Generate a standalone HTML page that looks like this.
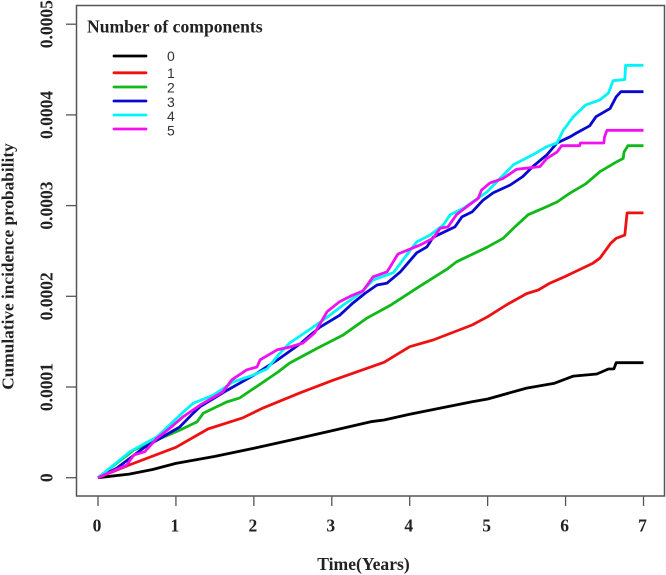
<!DOCTYPE html>
<html lang="en">
<head>
<meta charset="utf-8">
<title>Cumulative incidence probability by number of components</title>
<style>
html,body{margin:0;padding:0;background:#fff;width:666px;height:575px;overflow:hidden}
svg{display:block;filter:blur(0.35px)}
text{font-family:"Liberation Serif",serif;font-weight:bold;fill:#222}
</style>
</head>
<body>
<svg id="chart" xmlns="http://www.w3.org/2000/svg" width="666" height="575" viewBox="0 0 666 575">
  <rect x="76.5" y="5.5" width="588" height="490.5" fill="#fff" stroke="#555" stroke-width="1.5"/>
  <g id="ticks"></g>
  <g id="series"></g>
  <g id="legend">
    <text x="87" y="32.5" font-size="17.6">Number of components</text>
  </g>
  <text x="363.5" y="570" font-size="17.6" text-anchor="middle">Time(Years)</text>
  <text transform="translate(13.5,266.5) rotate(-90)" font-size="17.3" text-anchor="middle">Cumulative incidence probability</text>
</svg>
<script>
var xTicks = [0, 1, 2, 3, 4, 5, 6, 7];
var yTicks = [0, 0.0001, 0.0002, 0.0003, 0.0004, 0.0005];
var yTickLabels = ["0", "0.0001", "0.0002", "0.0003", "0.0004", "0.0005"];
var categories = ["0", "1", "2", "3", "4", "5"];
var colors = ["#000000", "#ee1111", "#10b818", "#0808d0", "#00f4f8", "#f010f0"];

var times0 = [0, 0.4, 0.7, 1, 1.5, 2, 2.5, 3, 3.5, 3.67, 4, 4.4, 4.8, 5, 5.5, 5.85, 6.1, 6.4, 6.55, 6.62, 6.65, 7];
var values0 = [0, 0.04, 0.09, 0.158, 0.235, 0.324, 0.42, 0.518, 0.617, 0.636, 0.70, 0.768, 0.838, 0.868, 0.988, 1.04, 1.12, 1.143, 1.198, 1.2, 1.268, 1.268];

var times1 = [0, 0.4, 1, 1.41, 1.86, 2.12, 2.59, 3, 3.67, 4, 4.3, 4.8, 5, 5.25, 5.5, 5.65, 5.8, 6, 6.35, 6.44, 6.58, 6.65, 6.76, 6.79, 7];
var values1 = [0, 0.14, 0.335, 0.537, 0.66, 0.77, 0.935, 1.07, 1.272, 1.444, 1.518, 1.684, 1.775, 1.91, 2.03, 2.07, 2.145, 2.22, 2.365, 2.42, 2.585, 2.64, 2.675, 2.92, 2.92];

var times2 = [0, 0.46, 1.05, 1.27, 1.35, 1.65, 1.82, 2.2, 2.31, 2.46, 2.82, 3.14, 3.45, 3.75, 4.11, 4.48, 4.6, 4.99, 5.2, 5.35, 5.52, 5.71, 5.89, 6.06, 6.26, 6.44, 6.65, 6.74, 6.75, 6.8, 7];
var values2 = [0, 0.305, 0.525, 0.615, 0.71, 0.835, 0.88, 1.1, 1.165, 1.265, 1.43, 1.57, 1.76, 1.9, 2.1, 2.3, 2.38, 2.54, 2.64, 2.765, 2.9, 2.97, 3.04, 3.14, 3.24, 3.374, 3.48, 3.52, 3.59, 3.66, 3.66];

var times3 = [0, 0.24, 0.58, 0.97, 1.05, 1.22, 1.31, 1.66, 2, 2.3, 2.6, 2.72, 2.85, 3.1, 3.27, 3.43, 3.58, 3.71, 3.88, 4.09, 4.22, 4.3, 4.58, 4.67, 4.8, 4.94, 5.07, 5.29, 5.45, 5.58, 5.76, 5.89, 6.06, 6.14, 6.31, 6.39, 6.57, 6.65, 6.71, 7];
var values3 = [0, 0.105, 0.325, 0.52, 0.56, 0.71, 0.783, 0.966, 1.13, 1.297, 1.48, 1.57, 1.66, 1.79, 1.925, 2.035, 2.125, 2.145, 2.27, 2.48, 2.545, 2.65, 2.765, 2.875, 2.93, 3.06, 3.14, 3.227, 3.32, 3.43, 3.56, 3.69, 3.76, 3.8, 3.88, 3.98, 4.07, 4.2, 4.256, 4.256];

var times4 = [0, 0.41, 0.76, 1.09, 1.22, 1.48, 1.73, 1.99, 2.17, 2.31, 2.46, 2.76, 2.94, 3.14, 3.36, 3.53, 3.79, 3.96, 4.09, 4.26, 4.43, 4.52, 4.69, 4.99, 5.16, 5.33, 5.58, 5.76, 5.89, 5.97, 6.1, 6.26, 6.44, 6.55, 6.61, 6.76, 6.77, 7];
var values4 = [0, 0.287, 0.452, 0.72, 0.82, 0.91, 1.055, 1.13, 1.2, 1.35, 1.485, 1.66, 1.77, 1.9, 2.03, 2.18, 2.26, 2.455, 2.6, 2.675, 2.785, 2.9, 2.97, 3.15, 3.3, 3.45, 3.56, 3.65, 3.69, 3.83, 3.98, 4.11, 4.165, 4.24, 4.377, 4.39, 4.547, 4.547];

var times5 = [0, 0.37, 0.46, 0.6, 0.76, 0.92, 1.09, 1.31, 1.6, 1.72, 1.91, 2.04, 2.08, 2.3, 2.46, 2.63, 2.78, 2.94, 3.1, 3.26, 3.4, 3.53, 3.71, 3.75, 3.85, 4.13, 4.3, 4.39, 4.49, 4.6, 4.75, 4.88, 4.92, 5.03, 5.2, 5.37, 5.67, 5.76, 5.89, 5.95, 6.18, 6.19, 6.49, 6.5, 6.53, 7];
var values5 = [0, 0.14, 0.25, 0.287, 0.437, 0.545, 0.67, 0.80, 0.945, 1.08, 1.19, 1.22, 1.3, 1.41, 1.44, 1.485, 1.595, 1.83, 1.94, 2.01, 2.06, 2.215, 2.27, 2.325, 2.466, 2.565, 2.64, 2.75, 2.765, 2.9, 3.0, 3.08, 3.17, 3.25, 3.3, 3.4, 3.43, 3.52, 3.59, 3.66, 3.66, 3.69, 3.69, 3.755, 3.83, 3.83];

var seriesTimes = [times0, times1, times2, times3, times4, times5];
var seriesValues = [values0, values1, values2, values3, values4, values5];

var NS = "http://www.w3.org/2000/svg";
function xScale(t) { return 98 + t * 77.93; }
function yScale(v) { return 477.7 - v * 907000; }
function make(tag, attrs, parent) {
  var el = document.createElementNS(NS, tag);
  for (var k in attrs) el.setAttribute(k, attrs[k]);
  parent.appendChild(el);
  return el;
}

var ticksG = document.getElementById("ticks");
xTicks.forEach(function (t) {
  var tick = make("line", {x1: xScale(t), x2: xScale(t), y1: 496, y2: 506, stroke: "#555", "stroke-width": 1.3}, ticksG);
  
  
  var label = make("text", {x: xScale(t) - 1, y: 531.5, "font-size": 17.5, "text-anchor": "middle"}, ticksG);
  
  
  label.textContent = String(t);
});
yTicks.forEach(function (v, i) {
  var tick = make("line", {x1: 66, x2: 76.5, y1: yScale(v), y2: yScale(v), stroke: "#555", "stroke-width": 1.3}, ticksG);
  
  
  var label = make("text", {transform: "translate(52.5," + yScale(v) + ") rotate(-90)", "font-size": 17.5, "text-anchor": "middle"}, ticksG);
  
  
  label.textContent = yTickLabels[i];
});

var seriesG = document.getElementById("series");
categories.forEach(function (c, i) {
  var pts = seriesTimes[i].map(function (t, j) {
    return xScale(t).toFixed(1) + "," + yScale(seriesValues[i][j] / 10000).toFixed(1);
  }).join(" ");
  var line = make("polyline", {points: pts, fill: "none", stroke: colors[i], "stroke-width": 2.8, "stroke-linejoin": "round"}, seriesG);
  
  
});

var legendG = document.getElementById("legend");
var legendLineRows = [56, 72.8, 87, 101, 115, 129];
var legendTextRows = [56, 73, 87.5, 102, 116, 130.5];
categories.forEach(function (c, i) {
  var sw = make("line", {x1: 114, x2: 146, y1: legendLineRows[i], y2: legendLineRows[i], stroke: colors[i], "stroke-width": 2.8, "stroke-linecap": "round"}, legendG);
  
  
  var t = make("text", {x: 167, y: legendTextRows[i] + 5, "font-size": 14, style: "font-family:'Liberation Sans',sans-serif;font-weight:normal;fill:#333"}, legendG);
  
  
  t.textContent = c;
});
</script>
</body>
</html>
